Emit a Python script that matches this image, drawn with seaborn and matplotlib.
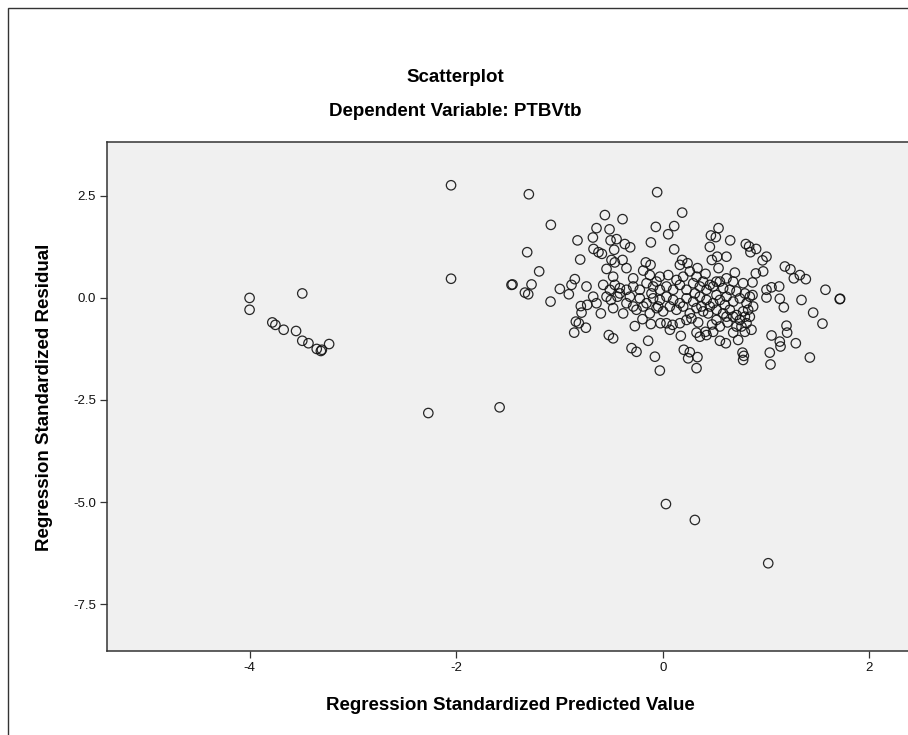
import matplotlib
matplotlib.use("Agg")
import matplotlib.pyplot as plt
import seaborn as sns
import pandas as pd
from matplotlib.patches import Rectangle

# ---- data ----
pred_outer = [-4.00, -4.00, -3.49, -3.78, -3.75, -3.67, -3.55, -3.49, -3.43, -3.35, -3.31, -3.30, -3.23,
              -2.05, -2.05, -2.27, -1.58, -1.465, -1.455, 0.03, 0.31, 1.02, 1.716, 1.712]
resid_outer = [0.00, -0.29, 0.11, -0.60, -0.66, -0.78, -0.81, -1.05, -1.11, -1.25, -1.30, -1.27, -1.13,
               2.76, 0.47, -2.82, -2.68, 0.32, 0.33, -5.05, -5.44, -6.50, -0.02, -0.03]

pred_cluster = [-1.297, -0.055, -1.084, -0.561, -0.39, 0.187, -0.642, -0.516, -0.068, 0.11,
                0.052, 0.539, 0.465, 0.513, 0.652, -0.826, -0.677, -0.506, -0.448, -0.368,
                -0.316, -0.116, 0.455, 0.803, 0.835, 0.903, 0.848, 1.003, 0.965, -0.671,
                -0.623, -0.59, -0.471, 0.11, -1.313, -0.80, -0.39, -0.465, -0.497, -0.165,
                -0.119, 0.187, 0.239, 0.474, 0.526, 0.616, -1.197, -0.545, -0.352, -0.19,
                0.165, 0.335, 0.413, 0.539, 0.697, 0.90, 0.971, 1.181, 1.235, 1.326,
                1.384, 1.268, -1.271, -0.852, -0.884, -0.997, -0.91, -0.739, -1.335, -1.303,
                -1.087, -0.577, -0.481, -0.287, -0.029, 0.052, 0.552, 0.616, 0.681, 0.777,
                0.868, 0.868, 1.003, 1.052, 1.126, 1.003, 1.132, 1.171, 1.342, 1.574,
                1.455, 1.545, 1.197, 1.203, 1.287, 1.052, 1.132, 1.139, 1.035, 1.042,
                1.423, 0.771, 0.777, 0.784, -0.029, 0.326, -0.077, 0.203, 0.261, 0.245,
                0.335, -0.303, -0.255, -0.142, -0.523, -0.481, 0.174, 0.326, 0.413, 0.552,
                0.61, 0.729, -0.858, -0.745, -0.842, -0.813, -0.787, -0.794, -0.732, -0.674,
                -0.642, -0.60, -0.481, -0.503, -0.439, -0.352, -0.271, -0.197, -0.116, -0.023,
                0.068, 0.094, 0.277, 0.342, 0.477, 0.519, 0.626, 0.713, 0.794, 0.858, 0.681]
resid_cluster = [2.54, 2.59, 1.79, 2.03, 1.93, 2.09, 1.71, 1.68, 1.74, 1.76,
                 1.56, 1.71, 1.53, 1.49, 1.41, 1.41, 1.48, 1.41, 1.44, 1.32,
                 1.24, 1.36, 1.25, 1.32, 1.26, 1.20, 1.12, 1.01, 0.92, 1.20,
                 1.12, 1.08, 1.18, 1.19, 1.12, 0.94, 0.93, 0.87, 0.93, 0.87,
                 0.81, 0.93, 0.85, 0.93, 1.01, 1.01, 0.65, 0.71, 0.73, 0.67,
                 0.81, 0.73, 0.59, 0.73, 0.62, 0.60, 0.65, 0.77, 0.70, 0.56,
                 0.46, 0.48, 0.33, 0.46, 0.32, 0.22, 0.09, 0.28, 0.13, 0.09,
                 -0.09, 0.32, 0.52, 0.48, 0.52, 0.56, 0.40, 0.48, 0.40, 0.36,
                 0.38, 0.07, 0.20, 0.26, 0.28, 0.01, -0.02, -0.23, -0.05, 0.20,
                 -0.36, -0.63, -0.68, -0.85, -1.11, -0.92, -1.07, -1.19, -1.34, -1.63,
                 -1.46, -1.34, -1.52, -1.42, -1.78, -1.72, -1.44, -1.27, -1.33, -1.48,
                 -1.45, -1.23, -1.32, -1.05, -0.91, -0.99, -0.93, -0.85, -0.83, -1.05,
                 -1.11, -1.03, -0.85, -0.73, -0.58, -0.62, -0.36, -0.20, -0.17, 0.03,
                 -0.13, -0.38, -0.25, -0.05, 0.03, -0.13, -0.69, -0.52, -0.64, -0.62,
                 -0.78, -0.66, -0.50, -0.60, -0.65, -0.54, -0.60, -0.70, -0.83, -0.78, -0.85]

pred_core = [-0.287, -0.223, -0.158, -0.094, -0.029, 0.035, 0.10, 0.165, 0.229, 0.294, 0.358, 0.423, 0.487,
             -0.223, -0.158, -0.094, -0.029, 0.035, 0.10, 0.165, 0.229, 0.294, 0.358, 0.423, 0.487, 0.552,
             0.616, 0.681, 0.745, 0.81, -0.255, -0.19, -0.126, -0.061, 0.003, 0.068, 0.132, 0.197, 0.261,
             0.326, 0.39, 0.455, 0.519, 0.584, 0.648, 0.713, 0.777, 0.842, 0.681, 0.745, 0.81, 0.616,
             0.552, 0.439, 0.229, 0.165, -0.352, -0.416, -0.319, -0.287, -0.384, -0.416, -0.465, -0.513,
             -0.545, -0.126, -0.061, 0.132, 0.197, 0.261, 0.326, 0.39, 0.455, 0.519, 0.584, 0.648, 0.713,
             0.794, 0.842, 0.874, 0.826, 0.794, 0.761, 0.487, 0.423, 0.358, 0.035, -0.045, -0.11, 0.31,
             0.374, 0.519, 0.60]
resid_core = [0.28, 0.20, 0.36, 0.28, 0.20, 0.28, 0.20, 0.32, 0.20, 0.36, 0.28, 0.20, 0.28,
              -0.01, -0.13, -0.01, -0.05, 0.03, -0.05, -0.13, -0.01, -0.09, 0.03, -0.05, -0.13, -0.05,
              0.03, -0.09, -0.01, -0.13, -0.29, -0.21, -0.38, -0.25, -0.33, -0.21, -0.29, -0.21, -0.38,
              -0.25, -0.33, -0.21, -0.29, -0.38, -0.29, -0.42, -0.33, -0.46, -0.46, -0.54, -0.62, -0.46,
              -0.70, -0.38, -0.54, -0.62, 0.20, 0.11, 0.03, -0.21, -0.38, 0.24, 0.32, 0.20,
              0.03, 0.56, 0.40, 0.44, 0.52, 0.65, 0.52, 0.40, 0.32, 0.40, 0.24, 0.20, 0.16,
              0.11, 0.03, -0.21, -0.29, -0.46, -0.70, -0.83, -0.91, -0.95, -0.62, -0.21, 0.11, 0.11,
              -0.21, 0.07, -0.17]

x_ticks = [-4, -2, 0, 2]
x_tick_labels = ["-4", "-2", "0", "2"]
y_ticks = [2.5, 0.0, -2.5, -5.0, -7.5]
y_tick_labels = ["2.5", "0.0", "-2.5", "-5.0", "-7.5"]

df = pd.DataFrame({
    "pred": pred_outer + pred_cluster + pred_core,
    "resid": resid_outer + resid_cluster + resid_core,
})

sns.set_style("white")
plt.rcParams["font.family"] = ["Liberation Sans", "DejaVu Sans"]
plt.rcParams["axes.unicode_minus"] = False

W, H = 908, 735
fig = plt.figure(figsize=(W / 100, H / 100), dpi=100)
fig.patch.set_facecolor("white")

# outer frame (left / top visible, rest cropped)
fig.patches.append(Rectangle((8 / W, -0.1), 1.2, (H - 8) / H + 0.1, transform=fig.transFigure,
                             fill=False, edgecolor="#333333", linewidth=1.0))

left_px, right_px, top_px, bot_px = 107, 917, 142, 651
ax = fig.add_axes([left_px / W, (H - bot_px) / H, (right_px - left_px) / W, (bot_px - top_px) / H])
ax.set_facecolor("#F0F0F0")

sns.scatterplot(data=df, x="pred", y="resid", ax=ax, marker="o", s=46,
                facecolors="none", edgecolor="#111111", linewidth=0.9, alpha=0.9)

ax.set_xlim(-5.38, 2.46)
ax.set_ylim(-8.65, 3.82)
ax.set_xticks(x_ticks)
ax.set_xticklabels(x_tick_labels)
ax.set_yticks(y_ticks)
ax.set_yticklabels(y_tick_labels)
ax.tick_params(axis="both", direction="out", length=5, width=0.9, color="#333333",
               labelsize=9.5, pad=3, labelcolor="#111111")
ax.tick_params(axis="both", left=True, bottom=True)

for side in ["left", "bottom", "top"]:
    ax.spines[side].set_visible(True)
    ax.spines[side].set_color("#333333")
    ax.spines[side].set_linewidth(1.1)
ax.spines["right"].set_visible(False)

ax.set_xlabel("Regression Standardized Predicted Value", fontsize=13.5, fontweight="bold", color="#000000")
ax.set_ylabel("Regression Standardized Residual", fontsize=13.5, fontweight="bold", color="#000000")
ax.xaxis.set_label_coords((510 - left_px) / (right_px - left_px), (bot_px - 706) / (bot_px - top_px))
ax.xaxis.label.set_va("center")
ax.yaxis.set_label_coords((45 - left_px) / (right_px - left_px), (bot_px - 397) / (bot_px - top_px))
ax.yaxis.label.set_va("center")

fig.text(455 / W, 1 - 77 / H, "Scatterplot", ha="center", va="center",
         fontsize=13.5, fontweight="bold", color="#000000")
fig.text(455 / W, 1 - 112 / H, "Dependent Variable: PTBVtb", ha="center", va="center",
         fontsize=13.5, fontweight="bold", color="#000000")

fig.savefig("out.png", dpi=100)
